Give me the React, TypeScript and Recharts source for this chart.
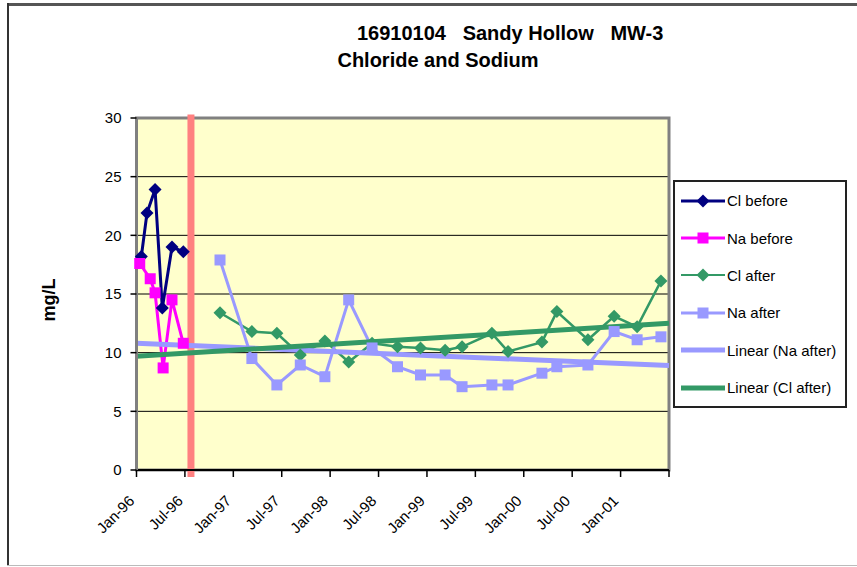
import React from "react";
import {
  LineChart,
  Line,
  XAxis,
  YAxis,
  CartesianGrid,
  Legend,
  ReferenceLine,
  ReferenceArea,
} from "recharts";

const FONT = '"Liberation Sans", Arial, Helvetica, sans-serif';

// x values are months counted from Jan 1996
const clBeforeMonths = [0.6, 1.3, 2.3, 3.2, 4.4, 5.8];
const clBeforeValues = [18.2, 21.9, 23.9, 13.8, 19.0, 18.6];
const naBeforeMonths = [0.4, 1.7, 2.3, 3.3, 4.4, 5.8];
const naBeforeValues = [17.6, 16.3, 15.1, 8.7, 14.5, 10.8];

const afterMonths = [
  10.35, 14.3, 17.4, 20.3, 23.35, 26.3, 29.2, 32.35, 35.2, 38.25, 40.35,
  44.05, 46.05, 50.25, 52.1, 55.95, 59.2, 62.05, 65.0,
];
const clAfterValues = [
  13.4, 11.8, 11.65, 9.8, 11.0, 9.2, 10.8, 10.5, 10.4, 10.2, 10.5, 11.65, 10.1,
  10.9, 13.5, 11.1, 13.1, 12.2, 16.1,
];
const naAfterValues = [
  17.9, 9.5, 7.25, 8.95, 7.95, 14.5, 10.4, 8.8, 8.1, 8.1, 7.1, 7.25, 7.25,
  8.25, 8.8, 8.95, 11.8, 11.1, 11.35,
];

const trendMonths = [0, 66];
const trendNaValues = [10.8, 8.9];
const trendClValues = [9.7, 12.5];

// the red marker line between the "before" and "after" periods
const changeMonth = 6.75;
const changeSpan = [-0.6, 30.3];

const xTickMonths = [0, 6, 12, 18, 24, 30, 36, 42, 48, 54, 60, 66];
const xTickLabels = [
  "Jan-96",
  "Jul-96",
  "Jan-97",
  "Jul-97",
  "Jan-98",
  "Jul-98",
  "Jan-99",
  "Jul-99",
  "Jan-00",
  "Jul-00",
  "Jan-01",
  "",
];
const yTicks = [0, 5, 10, 15, 20, 25, 30];

const legendOrder = [
  "Cl before",
  "Na before",
  "Cl after",
  "Na after",
  "Linear (Na after)",
  "Linear (Cl after)",
];

const toPoints = (months: number[], values: number[]) =>
  months.map((m, i) => ({ m, v: values[i] }));

const clBefore = toPoints(clBeforeMonths, clBeforeValues);
const naBefore = toPoints(naBeforeMonths, naBeforeValues);
const clAfter = toPoints(afterMonths, clAfterValues);
const naAfter = toPoints(afterMonths, naAfterValues);
const trendNa = toPoints(trendMonths, trendNaValues);
const trendCl = toPoints(trendMonths, trendClValues);

const NAVY = "#000080";
const MAGENTA = "#FF00FF";
const GREEN = "#339966";
const LILAC = "#9999FF";

type Marker = "diamond" | "square" | "none";

const seriesStyle: Record<string, { marker: Marker; legendWidth: number }> = {
  "Cl before": { marker: "diamond", legendWidth: 3 },
  "Na before": { marker: "square", legendWidth: 3 },
  "Cl after": { marker: "diamond", legendWidth: 2 },
  "Na after": { marker: "square", legendWidth: 3 },
  "Linear (Na after)": { marker: "none", legendWidth: 5 },
  "Linear (Cl after)": { marker: "none", legendWidth: 5 },
};

function markerShape(marker: Marker, cx: number, cy: number, color: string, key?: React.Key) {
  if (marker === "diamond") {
    const r = 6.5;
    return (
      <polygon
        key={key}
        points={`${cx},${cy - r} ${cx + r},${cy} ${cx},${cy + r} ${cx - r},${cy}`}
        fill={color}
      />
    );
  }
  if (marker === "square") {
    const s = 11;
    return <rect key={key} x={cx - s / 2} y={cy - s / 2} width={s} height={s} fill={color} />;
  }
  return null;
}

const makeDot = (marker: Marker, color: string) => (props: any) => {
  const { cx, cy, index } = props;
  if (cx == null || cy == null) return <g key={index} />;
  return markerShape(marker, cx, cy, color, index);
};

function XTick({ x, y, payload }: any) {
  const i = xTickMonths.indexOf(payload.value);
  const label = xTickLabels[i] ?? "";
  const ax = x - 5;
  const ay = y + 19;
  return (
    <text
      x={ax}
      y={ay}
      transform={`rotate(-45 ${ax} ${ay})`}
      textAnchor="end"
      dominantBaseline="central"
      fontSize={15}
      fontFamily={FONT}
      fill="#000"
    >
      {label}
    </text>
  );
}

function YLabel() {
  return (
    <text
      x={49}
      y={300}
      transform="rotate(-90 49 300)"
      textAnchor="middle"
      dominantBaseline="central"
      fontSize={18}
      fontWeight="bold"
      fontFamily={FONT}
      fill="#000"
    >
      mg/L
    </text>
  );
}

function ChartLegend({ payload }: any) {
  const items = [...(payload ?? [])].sort(
    (a: any, b: any) => legendOrder.indexOf(a.value) - legendOrder.indexOf(b.value),
  );
  return (
    <div style={legendBoxStyle}>
      {items.map((item: any) => {
        const st = seriesStyle[item.value];
        return (
          <div key={item.value} style={legendRowStyle}>
            <svg width={45} height={16} style={{ display: "block", flex: "none" }}>
              <line x1={0} y1={8} x2={44} y2={8} stroke={item.color} strokeWidth={st.legendWidth} />
              {markerShape(st.marker, 22, 8, item.color)}
            </svg>
            <span style={{ marginLeft: 1, whiteSpace: "nowrap" }}>{item.value}</span>
          </div>
        );
      })}
    </div>
  );
}

const legendBoxStyle: React.CSSProperties = {
  boxSizing: "border-box",
  width: 174,
  height: 228,
  border: "2px solid #222",
  background: "#fff",
  paddingLeft: 6,
  fontFamily: FONT,
  fontSize: 15,
  color: "#000",
};

const legendRowStyle: React.CSSProperties = {
  display: "flex",
  alignItems: "center",
  height: 37.4,
};

export default function App() {
  return (
    <div style={wrapStyle}>
      <div style={{ ...titleStyle, left: 357, top: 23 }}>
        {"16910104   Sandy Hollow   MW-3"}
      </div>
      <div style={{ ...titleStyle, left: 0, width: 876, textAlign: "center", top: 50 }}>
        Chloride and Sodium
      </div>
      <LineChart
        width={857}
        height={567}
        margin={{ top: 118, right: 188, bottom: 0, left: 0 }}
        style={{ position: "absolute", left: 0, top: 0 }}
      >
        <CartesianGrid vertical={false} stroke="#000" strokeWidth={1} fill="#FFFFCC" fillOpacity={1} />
        <ReferenceArea
          x1={0}
          x2={66}
          y1={0}
          y2={30}
          fill="none"
          stroke="#808080"
          strokeWidth={3}
          ifOverflow="visible"
        />
        <XAxis
          dataKey="m"
          type="number"
          domain={[0, 66]}
          ticks={xTickMonths}
          interval={0}
          height={97}
          tickSize={7}
          tick={<XTick />}
          axisLine={{ stroke: "#000", strokeWidth: 2 }}
          tickLine={{ stroke: "#000", strokeWidth: 1.5 }}
          allowDuplicatedCategory={false}
        />
        <YAxis
          type="number"
          domain={[0, 30]}
          ticks={yTicks}
          interval={0}
          width={136.5}
          tickSize={6}
          tickMargin={9}
          tick={{ fill: "#000", fontSize: 15, fontFamily: FONT }}
          axisLine={{ stroke: "#808080", strokeWidth: 3 }}
          tickLine={{ stroke: "#000", strokeWidth: 1.5 }}
          label={<YLabel />}
        />
        <ReferenceLine
          segment={[
            { x: changeMonth, y: changeSpan[0] },
            { x: changeMonth, y: changeSpan[1] },
          ]}
          stroke="#FF8080"
          strokeWidth={7}
          ifOverflow="visible"
        />
        <Line
          data={clBefore}
          dataKey="v"
          name="Cl before"
          stroke={NAVY}
          strokeWidth={3}
          dot={makeDot("diamond", NAVY)}
          activeDot={false}
          isAnimationActive={false}
        />
        <Line
          data={naBefore}
          dataKey="v"
          name="Na before"
          stroke={MAGENTA}
          strokeWidth={3}
          dot={makeDot("square", MAGENTA)}
          activeDot={false}
          isAnimationActive={false}
        />
        <Line
          data={clAfter}
          dataKey="v"
          name="Cl after"
          stroke={GREEN}
          strokeWidth={2.5}
          dot={makeDot("diamond", GREEN)}
          activeDot={false}
          isAnimationActive={false}
        />
        <Line
          data={naAfter}
          dataKey="v"
          name="Na after"
          stroke={LILAC}
          strokeWidth={3}
          dot={makeDot("square", LILAC)}
          activeDot={false}
          isAnimationActive={false}
        />
        <Line
          data={trendNa}
          dataKey="v"
          name="Linear (Na after)"
          stroke={LILAC}
          strokeWidth={5}
          dot={false}
          activeDot={false}
          isAnimationActive={false}
        />
        <Line
          data={trendCl}
          dataKey="v"
          name="Linear (Cl after)"
          stroke={GREEN}
          strokeWidth={5}
          dot={false}
          activeDot={false}
          isAnimationActive={false}
        />
        <Legend
          layout="vertical"
          align="center"
          verticalAlign="middle"
          content={<ChartLegend />}
          wrapperStyle={{ left: 673, top: 180, width: 174, height: 228 }}
        />
      </LineChart>
      {/* outer frame of the figure */}
      <div style={{ ...rule, left: 7, top: 3, width: 850, height: 3, background: "#555" }} />
      <div style={{ ...rule, left: 7, top: 3, width: 2, height: 563, background: "#333" }} />
      <div style={{ ...rule, left: 7, top: 565, width: 850, height: 1, background: "#bbb" }} />
    </div>
  );
}

const wrapStyle: React.CSSProperties = {
  position: "absolute",
  left: 0,
  top: 0,
  width: 857,
  height: 567,
  background: "#fff",
  overflow: "hidden",
};

const rule: React.CSSProperties = {
  position: "absolute",
  pointerEvents: "none",
};

const titleStyle: React.CSSProperties = {
  position: "absolute",
  fontFamily: FONT,
  fontSize: 20,
  fontWeight: "bold",
  lineHeight: "20px",
  whiteSpace: "pre",
  color: "#000",
};
